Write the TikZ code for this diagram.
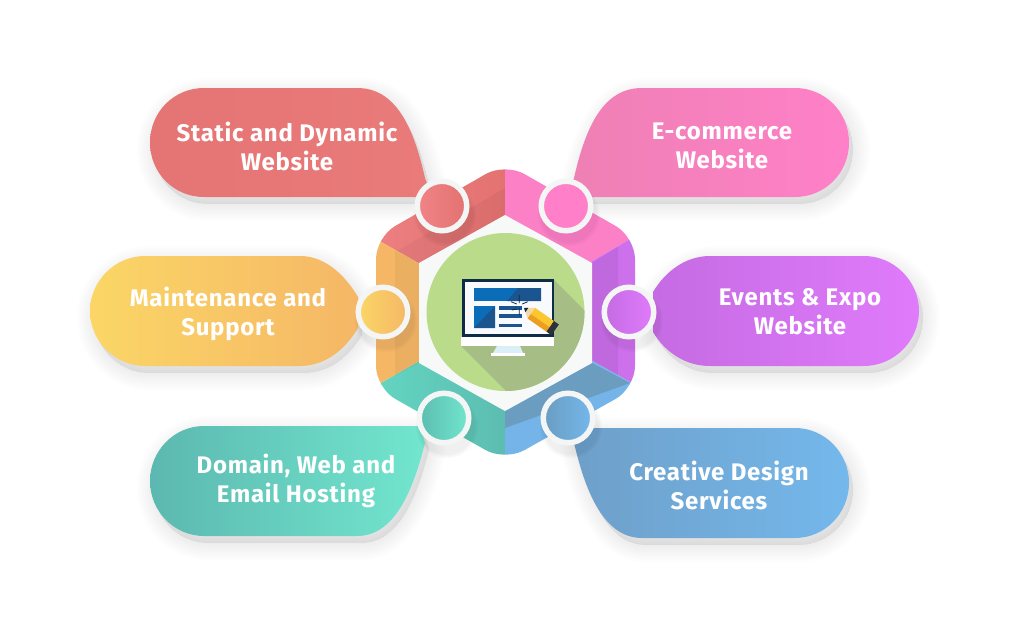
\documentclass[tikz,border=0pt]{standalone}
\usepackage{fontspec}
\setmainfont[LetterSpace=3]{Fira Sans}
\usetikzlibrary{calc}
\definecolor{ringc}{HTML}{F4F6F6}
\definecolor{navy}{HTML}{0F2C46}
\definecolor{bannera}{HTML}{0B6CB8}
\definecolor{bannerb}{HTML}{1A5590}
\definecolor{redA}{HTML}{F18488}
\definecolor{redB}{HTML}{E37270}
\definecolor{redC}{HTML}{E57474}
\definecolor{redD}{HTML}{EA7B7B}
\definecolor{pinkA}{HTML}{FC80C6}
\definecolor{pinkB}{HTML}{EE80B4}
\definecolor{pinkC}{HTML}{FF80C8}
\definecolor{purpA}{HTML}{C56BE3}
\definecolor{purpB}{HTML}{E07BFB}
\definecolor{purpC}{HTML}{CD70EC}
\definecolor{tealA}{HTML}{5CB8B0}
\definecolor{tealB}{HTML}{72E6CE}
\definecolor{tealC}{HTML}{66DEC8}
\definecolor{tealD}{HTML}{5CBDB0}
\definecolor{bluA}{HTML}{6E9FC8}
\definecolor{bluB}{HTML}{74B8EC}
\definecolor{bluC}{HTML}{74B4E8}
\definecolor{bluD}{HTML}{6A9DC0}
\definecolor{oraA}{HTML}{FBD666}
\definecolor{oraB}{HTML}{F5B766}
\definecolor{hexw}{HTML}{F7F8F8}
\definecolor{discg}{HTML}{BADC8A}
\definecolor{discs}{HTML}{A6BE86}
\definecolor{screenw}{HTML}{F8FAFD}
\definecolor{standc}{HTML}{DCEEF7}
\definecolor{woodc}{HTML}{F3D9A8}
\definecolor{pencA}{HTML}{FCC72E}
\definecolor{pencB}{HTML}{EE9E1E}
\definecolor{pencC}{HTML}{2D323A}
\tikzset{
  x=1pt,y=-1pt,
  pilltext/.style={text=white,font=\bfseries\fontsize{24}{29}\selectfont,align=center,inner sep=0pt},
  dot/.style={circle,minimum size=49.5pt,inner sep=0pt,outer sep=0pt,draw=ringc,line width=5.5pt},
}
\newcommand\softshadow[1]{%
  \foreach \w in {34,30,26,22,18,14,10,6,2}{%
    \path[fill=black,draw=black,opacity=.0065,line width=\w pt,line join=round,shift={(4pt,-7pt)}] #1;
  }}
\newcommand\ringshadow[1]{%
  \foreach \w in {31,29.5,28}{%
    \fill[black,opacity=.02] ($(#1)+(3,9)$) circle[radius=\w];
  }}
\def\pRed{(204,88) -- (357,88) .. controls (395,88) and (413,125) .. (425,178) -- (432,197) -- (204,197) .. controls (174,197) and (150,173) .. (150,142.5) .. controls (150,112) and (174,88) .. (204,88) -- cycle}
\def\pPink{(795,88) -- (642,88) .. controls (604,88) and (586,125) .. (574,178) -- (567,197) -- (795,197) .. controls (825,197) and (849,173) .. (849,142.5) .. controls (849,112) and (825,88) .. (795,88) -- cycle}
\def\pTeal{(204,426) -- (420,426) -- (425,443) .. controls (413,490) and (395,536) .. (357,536) -- (204,536) .. controls (174,536) and (150,511) .. (150,481) .. controls (150,451) and (174,426) .. (204,426) -- cycle}
\def\pBlue{(795,428) -- (570,428) -- (575,447) .. controls (586,492) and (604,538) .. (642,538) -- (795,538) .. controls (825,538) and (849,513) .. (849,483) .. controls (849,453) and (825,428) .. (795,428) -- cycle}
\def\pOrange{(145,256) -- (300,256) .. controls (325,256) and (345,275) .. (358,297) -- (358,328) .. controls (345,350) and (325,366) .. (300,366) -- (145,366) .. controls (115,366) and (90,341) .. (90,311) .. controls (90,281) and (115,256) .. (145,256) -- cycle}
\def\pPurple{(864,256) -- (710,256) .. controls (685,256) and (665,272) .. (653,292) -- (653,332) .. controls (665,352) and (685,366) .. (710,366) -- (864,366) .. controls (894,366) and (919,341) .. (919,311) .. controls (919,281) and (894,256) .. (864,256) -- cycle}
\begin{document}
\begin{tikzpicture}
\useasboundingbox (0,0) rectangle (1024,640);
\fill[white] (0,0) rectangle (1024,640);
% shadows of the pills
\softshadow{\pRed}\softshadow{\pPink}\softshadow{\pTeal}\softshadow{\pBlue}\softshadow{\pOrange}\softshadow{\pPurple}
% hexagon sectors
\begin{scope}
\clip[rounded corners=22pt] (505,163) -- (635,237) -- (635,388) -- (505,461) -- (376,388) -- (376,237) -- cycle;
\shade[left color=redA,right color=redB] (505,312) -- (505,100) -- (330,100) -- (330,213) -- cycle;
\fill[black,opacity=.04] (397,251) -- (505,188) -- (505,215) -- (419,263) -- cycle;
\fill[pinkA] (505,312) -- (505,100) -- (680,100) -- (680,210) -- cycle;
\fill[purpC] (505,312) -- (680,210) -- (700,210) -- (700,410) -- (680,410) -- cycle;
\fill[black,opacity=.06] (592,263) -- (618,247) -- (618,379) -- (592,363) -- cycle;
\shade[shading angle=-35,left color=tealC,right color=tealD] (505,312) -- (505,520) -- (330,520) -- (330,412) -- cycle;
\fill[bluC] (505,312) -- (680,410) -- (680,520) -- (505,520) -- cycle;
\fill[bluD] (505,411) -- (592,363) -- (630,383) -- (505,428) -- cycle;
\fill[oraB] (505,312) -- (330,412) -- (330,213) -- cycle;
\fill[black,opacity=.04] (395,250) -- (419,263) -- (419,363) -- (395,376) -- cycle;
\end{scope}
% inner hexagon and disc
\fill[hexw] (505,215) -- (592,263) -- (592,363) -- (505,411) -- (419,363) -- (419,263) -- cycle;
\fill[discg] (505.5,312) circle[radius=79];
\begin{scope}
\clip (505.5,312) circle[radius=79];
\fill[discs] (554,280) -- (654,380) -- (561,446) -- (461,346) -- cycle;
\end{scope}
% monitor
\fill[navy] (462,279) rectangle (554,337);
\fill[screenw] (464.5,282) rectangle (551.7,334);
\fill[white] (461,337) rectangle (554,346);
\fill[standc] (497,346) -- (520,346) -- (523,353) -- (493,353) -- cycle;
\fill[white] (491,353) rectangle (525,356);
\fill[bannera] (474,288) rectangle (541,301);
\fill[bannerb] (507,301) -- (518,288) -- (541,288) -- (541,301) -- cycle;
\fill[bannera] (474,306) rectangle (495,328);
\fill[bannerb] (474,328) -- (495,306) -- (495,328) -- cycle;
\fill[bannerb] (499,306) rectangle (522,310);
\fill[bannerb] (499,314) rectangle (522,318);
\fill[bannerb] (499,324) rectangle (522,327);
\draw[navy,line width=.8pt] (519.3,295) -- (519.3,303) (511,301.7) -- (516.7,304) (527.7,301.7) -- (522.3,304) (511.7,310) -- (516.7,309) (519.3,308.3) -- (519.3,315);
% pencil
\begin{scope}[shift={(524pt,-308pt)},rotate=-35]
\fill[woodc] (0,0) -- (9,-6.5) -- (9,6.5) -- cycle;
\fill[navy] (0,0) -- (3.5,-2.5) -- (3.5,2.5) -- cycle;
\fill[pencA] (9,-6.5) rectangle (32,1);
\fill[pencB] (9,1) rectangle (32,6.5);
\fill[pencC] (32,-6.5) rectangle (38,6.5);
\end{scope}
% pills
\shade[left color=redC,right color=redD] \pRed;
\shade[left color=pinkB,right color=pinkC] \pPink;
\shade[shading angle=60,left color=tealA,right color=tealB] \pTeal;
\shade[shading angle=110,left color=bluA,right color=bluB] \pBlue;
\shade[shading angle=110,left color=oraA,right color=oraB] \pOrange;
\shade[shading angle=110,left color=purpA,right color=purpB] \pPurple;
% labels
\node[pilltext] (lred) at (287,146) {Static and Dynamic\\Website};
\node[pilltext] (lpink) at (722,146) {E-commerce\\Website};
\node[pilltext] (lorange) at (228,314) {Maintenance and\\Support};
\node[pilltext] (lpurple) at (800,312) {Events \& Expo\\Website};
\node[pilltext] (lteal) at (296,481) {Domain, Web and\\Email Hosting};
\node[pilltext] (lblue) at (719,485) {Creative Design\\Services};
% ring shadows and rings
\ringshadow{442,206}\ringshadow{566,206}\ringshadow{383,312}\ringshadow{629,312}\ringshadow{444,418}\ringshadow{568,418}
\node[dot,shade,left color=redA,right color=redB] (cred) at (442,206) {};
\node[dot,fill=pinkC] (cpink) at (566,206) {};
\node[dot,shade,shading angle=135,left color=oraA,right color=oraB] (corange) at (383,312) {};
\node[dot,shade,shading angle=135,left color=purpA,right color=purpB] (cpurple) at (629,312) {};
\node[dot,shade,shading angle=135,left color=tealD,right color=tealB] (cteal) at (444,418) {};
\node[dot,shade,shading angle=135,left color=bluD,right color=bluB] (cblue) at (568,418) {};
\end{tikzpicture}
\end{document}
